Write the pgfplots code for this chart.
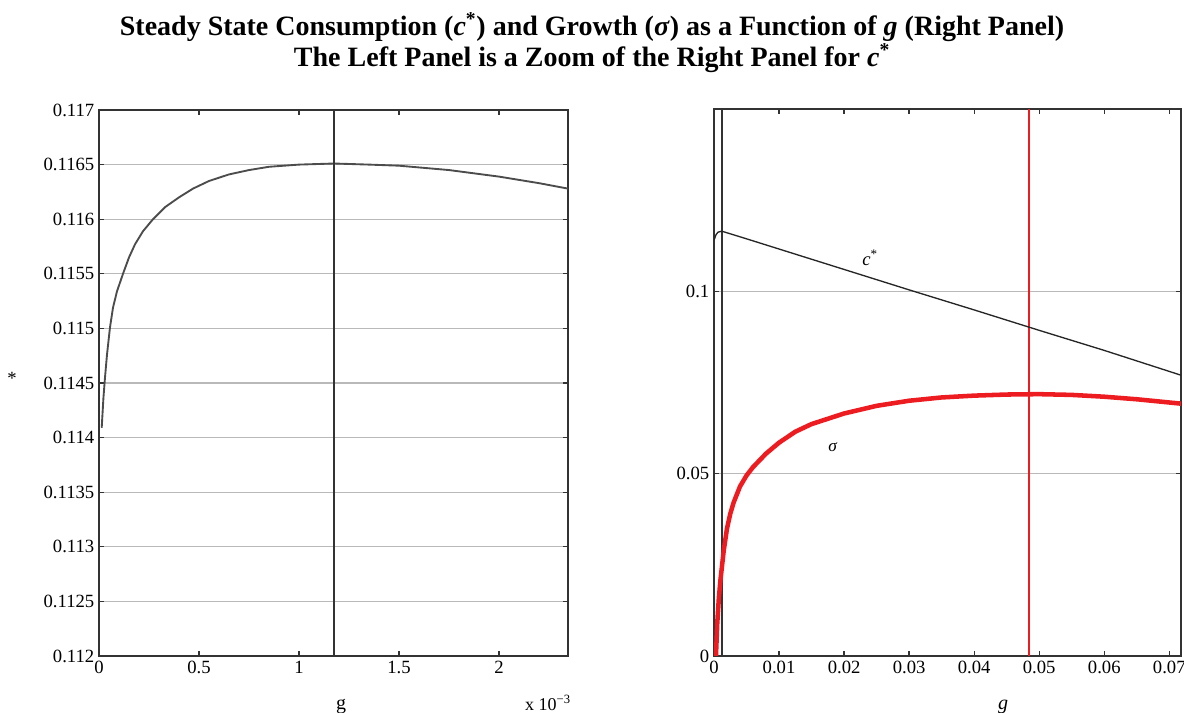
\documentclass[border=0pt]{standalone}
\usepackage{fontspec}
\setmainfont{Liberation Serif}
\usepackage{pgfplots}
\pgfplotsset{compat=1.18}
\usepackage{pgfplotstable}
\definecolor{axisgray}{rgb}{0.2,0.2,0.2}
\definecolor{curvegray}{rgb}{0.3,0.3,0.3}
\definecolor{sigred}{rgb}{0.93,0.11,0.13}

% left panel: c* against g (g in units of 1e-3)
\pgfplotstableread{
g c
0.0135 0.11409
0.017 0.11420
0.022 0.11436
0.03 0.11455
0.04 0.11476
0.055 0.11501
0.07 0.11519
0.09 0.11534
0.12 0.11550
0.15 0.11565
0.18 0.11577
0.22 0.11589
0.27 0.11600
0.33 0.11611
0.4 0.11620
0.47 0.11628
0.55 0.11635
0.65 0.11641
0.75 0.11645
0.85 0.11648
1.0 0.11650
1.175 0.11651
1.35 0.11650
1.5 0.11649
1.75 0.11645
2.0 0.11639
2.2 0.11633
2.345 0.11628
}\zoomtab

% right panel: c* and sigma against g
\pgfplotstableread{
g c
0 0.1140
0.0003 0.1155
0.0006 0.1162
0.001175 0.1165
0.003 0.1155
0.005 0.1144
0.01 0.1116
0.02 0.1060
0.03 0.1004
0.04 0.0949
0.05 0.0893
0.06 0.0838
0.0718 0.0770
}\cstar

\pgfplotstableread{
g s
0.0003 0.000
0.0005 0.009
0.00075 0.016
0.001 0.021
0.0015 0.029
0.002 0.035
0.0025 0.039
0.003 0.042
0.004 0.0465
0.005 0.0495
0.006 0.0518
0.008 0.0555
0.01 0.0585
0.0125 0.0615
0.015 0.0636
0.02 0.0665
0.025 0.0686
0.03 0.0700
0.035 0.0709
0.04 0.0714
0.045 0.0717
0.05 0.0718
0.055 0.0716
0.06 0.0711
0.065 0.0704
0.0718 0.0692
}\sigmatab

\pgfplotsset{
  panel/.style={
    scale only axis,
    axis line style={axisgray,line width=1.2pt},
    tick style={axisgray,line width=1pt},
    tick align=inside,
    major tick length=3.75pt,
    ymajorgrids,
    grid style={gray!55,line width=0.9pt},
    ticklabel style={font=\fontsize{14}{15}\selectfont},
    /pgf/number format/assume math mode=true,
    scaled ticks=false,
  }
}

\begin{document}
\begin{tikzpicture}
\useasboundingbox (0,0) rectangle (888pt,534.75pt);

\begin{axis}[panel,
  at={(74.25pt,42.75pt)}, anchor=south west,
  width=351.75pt, height=409.5pt,
  xmin=0, xmax=2.345,
  ymin=0.112, ymax=0.117,
  xtick={0,0.5,1,1.5,2},
  xticklabels={0,0.5,1,1.5,2},
  ytick={0.112,0.1125,0.113,0.1135,0.114,0.1145,0.115,0.1155,0.116,0.1165,0.117},
  yticklabels={0.112,0.1125,0.113,0.1135,0.114,0.1145,0.115,0.1155,0.116,0.1165,0.117},
]
\addplot[draw=curvegray,line width=1.4pt] table[x=g,y=c] {\zoomtab};
\addplot[draw=axisgray,line width=1.2pt] coordinates {(1.175,0.112) (1.175,0.117)};
\end{axis}

\begin{axis}[panel,
  at={(535.5pt,42.75pt)}, anchor=south west,
  width=350.25pt, height=410.25pt,
  xmin=0, xmax=0.0718,
  ymin=0, ymax=0.15,
  xtick={0,0.01,0.02,0.03,0.04,0.05,0.06,0.07},
  xticklabels={0,0.01,0.02,0.03,0.04,0.05,0.06,0.07},
  ytick={0,0.05,0.1},
  yticklabels={0,0.05,0.1},
]
\addplot[draw=axisgray,line width=1.3pt] coordinates {(0.001175,0) (0.001175,0.15)};
\addplot[draw=sigred,line width=1.5pt] coordinates {(0.0485,0) (0.0485,0.15)};
\addplot[draw=sigred,line width=3.4pt] table[x=g,y=s] {\sigmatab};
\addplot[draw=black!85,line width=1pt] table[x=g,y=c] {\cstar};
\end{axis}

\begin{scope}[x=0.75pt,y=0.75pt]
\node[font=\bfseries\fontsize{21}{24}\selectfont] at (592,686)
  {Steady State Consumption (\textit{c}\textsuperscript{*}) and Growth (\textit{σ}) as a Function of \textit{g} (Right Panel)};
\node[font=\bfseries\fontsize{21}{24}\selectfont] at (592,655)
  {The Left Panel is a Zoom of the Right Panel for \textit{c}\textsuperscript{*}};
\node[font=\fontsize{14}{16}\selectfont] at (12,335) {*};
\node[font=\fontsize{14}{16}\selectfont] at (870,455) {\textit{c}\textsuperscript{*}};
\node[font=\fontsize{13}{15}\selectfont] at (833,266) {\textit{σ}};
\node[font=\fontsize{15}{16}\selectfont] at (341,6) {g};
\node[font=\fontsize{15}{16}\selectfont] at (1003,6) {\textit{g}};
\node[font=\fontsize{13.5}{15}\selectfont] at (548,10) {x 10\textsuperscript{−3}};
\end{scope}
\end{tikzpicture}
\end{document}
